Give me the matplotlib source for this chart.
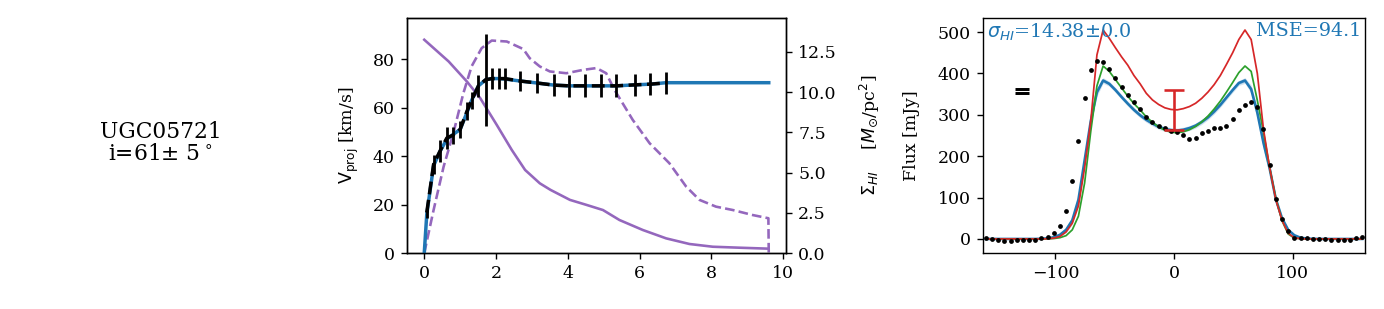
import matplotlib
matplotlib.use('Agg')
import matplotlib.pyplot as plt
import numpy as np

plt.rcParams['font.family'] = ['DejaVu Serif']
plt.rcParams['font.size'] = 10

galaxy = 'UGC05721'
incl_text = 'i=61$\\pm$ 5$^\\circ$'

# rotation curve (data with errors)
rc_r = [0.07, 0.26, 0.44, 0.63, 0.81, 1.0, 1.19, 1.32, 1.51, 1.71, 1.88, 2.08,
        2.25, 2.67, 3.13, 3.61, 4.04, 4.47, 4.92, 5.35, 5.86, 6.3, 6.74]
rc_v = [16.7, 36.6, 42.1, 47.5, 48.7, 51.0, 58.5, 63.0, 69.0, 71.5, 72.0, 72.0,
        72.0, 71.0, 70.2, 69.3, 69.0, 69.0, 69.0, 69.0, 69.4, 69.7, 70.2]
rc_err = [2.4, 3.8, 4.5, 4.5, 3.5, 3.5, 3.7, 3.4, 4.5, 19.0, 4.5, 4.5,
          4.5, 4.0, 4.3, 4.5, 4.5, 4.8, 4.8, 4.8, 4.5, 4.5, 4.5]

# model curve
mod_r = [0, 0.07, 0.26, 0.44, 0.63, 0.81, 1.0, 1.19, 1.32, 1.51, 1.71, 1.88, 2.08,
         2.25, 2.67, 3.13, 3.61, 4.04, 4.47, 4.92, 5.35, 5.86, 6.3, 6.74, 9.6]
mod_v = [0, 16, 36, 42, 47, 49, 51, 58, 63, 69, 71.5, 72, 72,
         71.8, 71, 70.2, 69.3, 69, 69, 69, 69, 69.4, 69.7, 70.3, 70.3]

# surface density profiles
sig_r = [0, 0.68, 1.19, 1.56, 2.02, 2.44, 2.81, 3.22, 3.52, 4.06, 4.52, 4.98,
         5.44, 6.09, 6.74, 7.39, 8.04, 8.78, 9.59]
sig_s = [13.25, 11.9, 10.65, 9.62, 7.96, 6.4, 5.16, 4.33, 3.92, 3.3, 2.99, 2.67,
         2.05, 1.43, 0.91, 0.56, 0.39, 0.33, 0.27]

sig2_r = [0, 0.26, 0.54, 0.81, 1.09, 1.32, 1.6, 1.88, 2.3, 2.76, 2.94, 3.22, 3.5,
          3.96, 4.43, 4.8, 5.07, 5.3, 5.81, 6.28, 6.83, 7.3, 7.67, 8.13, 8.6,
          9.15, 9.59, 9.6]
sig2_s = [0, 2.67, 5.37, 7.44, 9.93, 11.6, 12.73, 13.2, 13.14, 12.67, 12.1, 11.59,
          11.28, 11.17, 11.38, 11.49, 11.17, 10.14, 8.27, 6.82, 5.58, 4.12, 3.3,
          2.88, 2.67, 2.36, 2.16, 0]

# HI profile
vel = [-158.6, -153.4, -148.2, -143.0, -137.8, -132.6, -127.4, -122.2, -117.0,
       -111.8, -106.6, -101.4, -96.2, -91.0, -85.8, -80.6, -75.4, -70.2, -65.0,
       -59.8, -54.6, -49.4, -44.2, -39.0, -33.8, -28.6, -23.4, -18.2, -13.0, -7.8,
       -2.6, 2.6, 7.8, 13.0, 18.2, 23.4, 28.6, 33.8, 39.0, 44.2, 49.4, 54.6, 59.8,
       65.0, 70.2, 75.4, 80.6, 85.8, 91.0, 96.2, 101.4, 106.6, 111.8, 117.0, 122.2,
       127.4, 132.6, 137.8, 143.0, 148.2, 153.4, 158.6]
flux_obs = [1.6, 0, -2.4, -4.8, -4.8, -2.4, -1.6, -1.6, -1.6, 1.6,
            5.6, 14, 31, 68, 139, 237, 340, 409, 431, 428,
            411, 389, 367, 347, 330, 314, 295, 282, 274, 268,
            261, 258, 252, 241, 245, 257, 261, 267, 269, 274,
            291, 311, 324, 332, 319, 266, 178, 96, 48, 19,
            2.4, 2.4, 3, 0, 0, 0, -1.6, -3.2, -3.2, -1.6,
            2.4, 4.8]
flux_red = [0, 0, 0, 0, 0, 0, 0, 0, 0, 0,
            0.5, 2, 6, 17, 38, 80, 172, 285, 445, 505,
            485, 462, 440, 420, 395, 375, 352, 336, 325, 317,
            313, 312, 315, 320, 328, 340, 355, 373, 395, 422,
            450, 482, 505, 482, 400, 265, 172, 95, 45, 14,
            3, 0.5, 0, 0, 0, 0, 0, 0, 0, 0,
            0, 0]
flux_green = [0, 0, 0, 0, 0, 0, 0, 0, 0, 0,
              0.3, 1, 3, 8, 22, 55, 135, 260, 370, 418,
              405, 385, 365, 345, 327, 312, 295, 282, 271, 263,
              258, 257, 259, 264, 272, 283, 297, 314, 333, 355,
              378, 402, 418, 405, 335, 258, 172, 98, 44, 12,
              2, 0.5, 0, 0, 0, 0, 0, 0, 0, 0,
              0, 0]
flux_blue = [0, 0, 0, 0, 0, 0, 0, 0, 0, 0.5,
             1.5, 4, 10, 22, 45, 95, 190, 285, 355, 383,
             375, 360, 343, 327, 312, 299, 288, 279, 271, 266,
             263, 262, 264, 268, 274, 283, 294, 308, 324, 342,
             360, 377, 383, 362, 305, 232, 170, 96, 50, 22,
             9, 3, 1, 0.3, 0, 0, 0, 0, 0, 0,
             0, 0]
flux_spread = [0.5, 0.5, 0.5, 0.5, 0.5, 0.5, 0.5, 0.5, 0.5, 0.5,
               1, 2, 4, 7, 10, 14, 16, 14, 10, 7,
               6, 6, 6, 6, 6, 6, 6, 6, 6, 6,
               6, 6, 6, 6, 6, 6, 6, 6, 6, 6,
               6, 6, 7, 10, 14, 16, 14, 10, 7, 4,
               2, 1, 0.5, 0.5, 0.5, 0.5, 0.5, 0.5, 0.5, 0.5,
               0.5, 0.5]

sigma_text = r'$\sigma_{HI}$=14.38$\pm$0.0'
mse_text = 'MSE=94.1'

fig = plt.figure(figsize=(11.072, 2.472), dpi=125)

# left: name panel
fig.text(0.116, 0.538, galaxy + '\n' + incl_text, ha='center', va='center',
         fontsize=12.5, linespacing=1.0)

# middle: rotation curve
ax = fig.add_axes([0.2941, 0.1812, 0.2738, 0.7605])
ax2 = ax.twinx()
ax.plot(mod_r, mod_v, color='C0', lw=2, zorder=2)
ax.errorbar(rc_r, rc_v, yerr=rc_err, fmt='--', color='k', lw=2,
            elinewidth=1.6, capsize=0, zorder=3)
ax2.plot(sig_r, sig_s, color='C4', lw=1.5)
ax2.plot(sig2_r, sig2_s, color='C4', lw=1.5, ls='--')
ax.set_ylim(0, 97)
ax2.set_ylim(0, 14.6)
ax.set_xticks([0, 2, 4, 6, 8, 10])
ax.set_yticks([0, 20, 40, 60, 80])
ax2.set_yticks([0, 2.5, 5, 7.5, 10, 12.5])
ax.set_ylabel(r'$\mathrm{V_{proj}}$ [km/s]', labelpad=7)
ax2.set_ylabel(r'$\Sigma_{HI}$    [$M_{\odot}$/pc$^2$]', labelpad=12)
ax.set_zorder(ax2.get_zorder() + 1)
ax.patch.set_visible(False)

# right: HI profile
ax3 = fig.add_axes([0.7103, 0.1812, 0.2760, 0.7605])
vel = np.array(vel)
fb = np.array(flux_blue)
fs = np.array(flux_spread)
ax3.fill_between(vel, fb - fs, fb + fs, color='C0', alpha=0.2, lw=0)
ax3.fill_between(vel, fb - fs / 2, fb + fs / 2, color='C0', alpha=0.25, lw=0)
ax3.plot(vel, flux_blue, color='C0', lw=1.5)
ax3.plot(vel, flux_green, color='C2', lw=1)
ax3.plot(vel, flux_red, color='C3', lw=1)
ax3.plot(vel, flux_obs, 'k.', ms=3.5)
ax3.errorbar([0], [311], yerr=[48], color='C3', capsize=6, lw=1.5, capthick=1.5)
ax3.errorbar([-128], [357], yerr=[4.5], fmt='none', ecolor='k', capsize=4.3,
             capthick=1.7, elinewidth=0)
ax3.set_xlim(-161, 161)
ax3.set_ylim(-34, 534)
ax3.set_xticks([-100, 0, 100])
ax3.set_yticks([0, 100, 200, 300, 400, 500])
ax3.set_ylabel('Flux [mJy]', labelpad=10)
ax3.text(0.01, 0.985, sigma_text, transform=ax3.transAxes, color='C0',
         ha='left', va='top', fontsize=11)
ax3.text(0.99, 0.985, mse_text, transform=ax3.transAxes, color='C0',
         ha='right', va='top', fontsize=11)

fig.savefig('out.png', dpi=125)
